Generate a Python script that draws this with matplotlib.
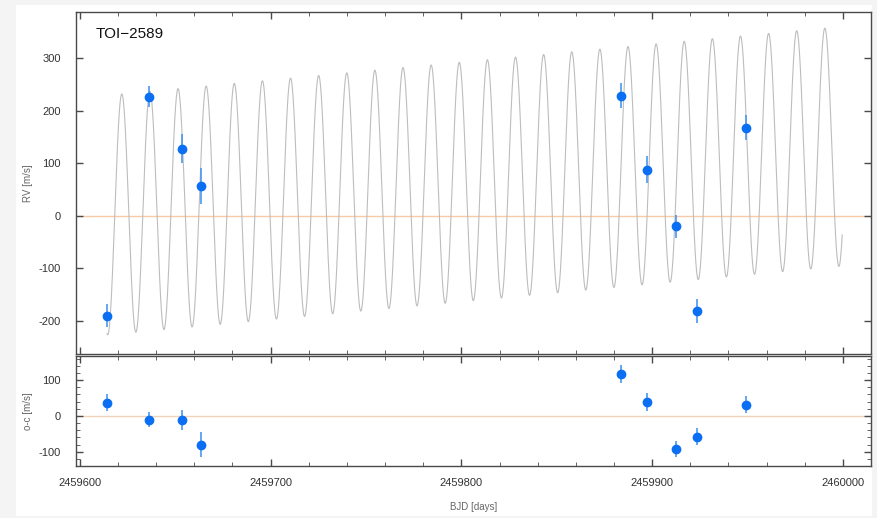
"""
RV fit for TOI-2589: model, data and o-c residuals.
"""

import numpy as np
import matplotlib.pyplot as plt
from matplotlib.patches import Rectangle
from matplotlib.ticker import MultipleLocator

plt.rcParams.update({
    "font.family": ["Liberation Sans", "DejaVu Sans"],
    "axes.unicode_minus": False,
    "font.size": 8})

# data
bjd = [2459614.3, 2459636.4, 2459653.4, 2459663.5, 2459883.6,
       2459897.5, 2459912.5, 2459923.5, 2459949.4]
rv = [-190, 227, 128, 57, 229, 88, -20, -181, 168]
rv_err = [22, 20, 28, 34, 24, 25, 22, 23, 23]
oc = [37, -11, -11, -80, 116, 39, -93, -58, 31]
oc_err = [23, 21, 28, 36, 25, 25, 22, 24, 24]

# model parameters
period = 14.74       # days
k_amp = 228.0        # m/s
t_peak = 2459622.0   # epoch of a maximum
gamma = 4.0          # m/s at t_peak
slope = 0.34         # m/s/day
model_start, model_end = 2459614.3, 2459999.6

t_model = np.linspace(model_start, model_end, 6000)
rv_model = (gamma + slope * (t_model - t_peak)
            + k_amp * np.cos(2 * np.pi * (t_model - t_peak) / period))

pt_col = '#0a6ff2'
err_col = '#4a97ee'
zero_col = '#f8cba6'
frame_col = '#4a4a4a'

fig = plt.figure(figsize=(8.77, 5.18), dpi=100)
fig.patch.set_facecolor('#f4f4f4')

# white card behind the plot
bg = fig.add_axes([0, 0, 1, 1], zorder=-10)
bg.set_xlim(0, 877)
bg.set_ylim(518, 0)
bg.axis('off')
bg.add_patch(Rectangle((16, 5), 856, 511, facecolor='white', edgecolor='none'))

ax1 = fig.add_axes([76/877, 1-354/518, 795/877, 342/518])
ax2 = fig.add_axes([76/877, 1-466/518, 795/877, 110/518])

xlim = (2459598, 2460014.7)

ax1.plot(t_model, rv_model, color='#bdbdbd', lw=0.8, zorder=2)
ax1.axhline(0, color=zero_col, lw=1.0, zorder=1)
ax1.errorbar(bjd, rv, yerr=rv_err, fmt='o', color=pt_col, ecolor=err_col,
             elinewidth=1.2, markersize=6, capsize=0, zorder=3)
ax1.set_xlim(*xlim)
ax1.set_ylim(-263, 388)
ax1.set_yticks([-200, -100, 0, 100, 200, 300])
ax1.set_ylabel('RV [m/s]', fontsize=7, color='#666666', labelpad=4)
ax1.text(0.025, 0.955, 'TOI\u22122589', transform=ax1.transAxes,
         fontsize=11, color='#111111', va='top', ha='left')
ax1.tick_params(labelbottom=False)

ax2.axhline(0, color='#f3d3b8', lw=1.0, zorder=1)
ax2.errorbar(bjd, oc, yerr=oc_err, fmt='o', color=pt_col, ecolor=err_col,
             elinewidth=1.2, markersize=6, capsize=0, zorder=3)
ax2.set_xlim(*xlim)
ax2.set_ylim(-140, 167)
ax2.set_yticks([-100, 0, 100])
ax2.yaxis.set_minor_locator(MultipleLocator(20))
ax2.set_ylabel('o-c [m/s]', fontsize=7, color='#666666', labelpad=4)
ax2.set_xlabel('BJD [days]', fontsize=7, color='#666666', labelpad=10)

for ax in (ax1, ax2):
    ax.set_xticks([2459600, 2459700, 2459800, 2459900, 2460000])
    ax.xaxis.set_minor_locator(MultipleLocator(20))
    ax.ticklabel_format(axis='x', useOffset=False, style='plain')
    ax.tick_params(which='both', direction='in', top=True, right=True,
                   color=frame_col, labelcolor='#333333', labelsize=8)
    ax.tick_params(axis='y', pad=11)
    ax.tick_params(axis='x', pad=9)
    ax.tick_params(which='major', length=5, width=1.0)
    ax.tick_params(which='minor', length=3, width=0.6)
    for s in ax.spines.values():
        s.set_color(frame_col)
        s.set_linewidth(1.0)

fig.savefig('out.png', dpi=100, facecolor=fig.get_facecolor())
